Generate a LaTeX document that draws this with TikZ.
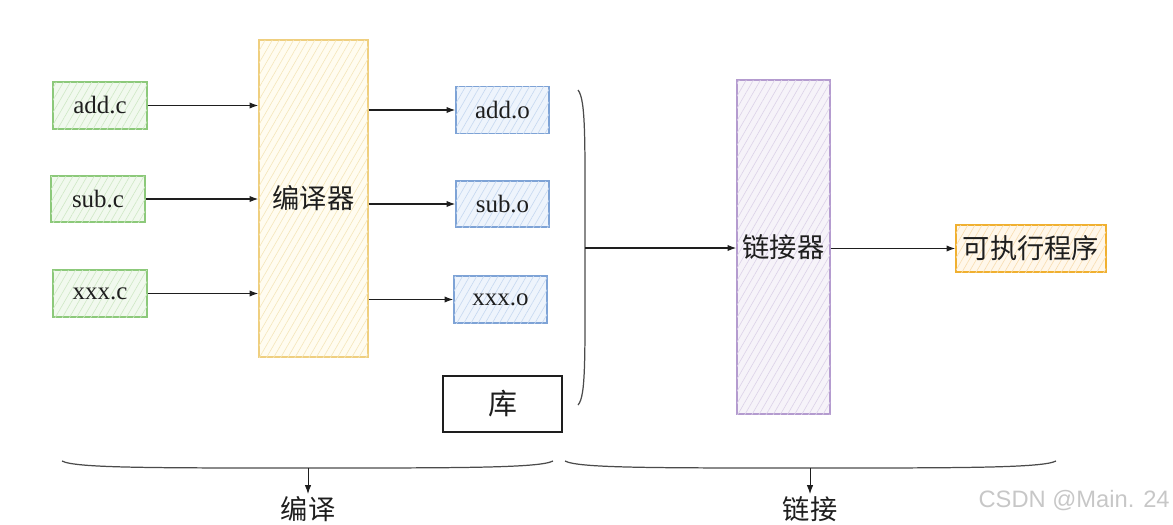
\documentclass[tikz,border=0pt]{standalone}
\usepackage{fontspec}
\newfontfamily\cjk{Noto Sans CJK SC}
\newfontfamily\wmfont{Liberation Sans}
\newfontfamily\latfont{Liberation Serif}
\usetikzlibrary{arrows.meta,patterns.meta}
\definecolor{grnD}{HTML}{8CC97A}\definecolor{grnF}{HTML}{F1F9EE}\definecolor{grnH}{HTML}{CFE8C6}
\definecolor{ylwD}{HTML}{EFCF7F}\definecolor{ylwF}{HTML}{FFFCF0}\definecolor{ylwH}{HTML}{F5E6BA}
\definecolor{bluD}{HTML}{7EA3D6}\definecolor{bluF}{HTML}{EEF4FC}\definecolor{bluH}{HTML}{C6D8F0}
\definecolor{purD}{HTML}{B49BCF}\definecolor{purF}{HTML}{F6F3F9}\definecolor{purH}{HTML}{DCD2E8}
\definecolor{orgD}{HTML}{F0B030}\definecolor{orgF}{HTML}{FFF7EA}\definecolor{orgH}{HTML}{F8DDB0}
\definecolor{ink}{HTML}{1E1E1E}
\begin{document}
\begin{tikzpicture}[x=0.02cm,y=-0.02cm,
  hbox/.style n args={3}{draw=#1, fill=#2, line width=0.8pt, inner sep=0pt, text=ink,
     postaction={pattern={Lines[angle=60,distance=3.5pt,line width=0.35pt]}, pattern color=#3}},
  lat/.style={font=\latfont\fontsize{14.2}{16}\selectfont},
  han/.style={font=\cjk\fontsize{15.5}{18}\selectfont},
  arr/.style={draw=ink, line width=0.65pt, -{Latex[length=5pt,width=3.6pt]}},
  brk/.style={draw=ink!80, line width=0.7pt}]
\clip (0,0) rectangle (1173,524);
\useasboundingbox (0,0) rectangle (1173,524);
% source files
\node[hbox={grnD}{grnF}{grnH}, lat, minimum width=94*0.02cm, minimum height=47*0.02cm] (addc) at (100,105.5) {add.c};
\node[hbox={grnD}{grnF}{grnH}, lat, minimum width=94*0.02cm, minimum height=46*0.02cm] (subc) at (98,199) {sub.c};
\node[hbox={grnD}{grnF}{grnH}, lat, minimum width=94*0.02cm, minimum height=47*0.02cm] (xxxc) at (100,293.5) {xxx.c};
% compiler
\node[hbox={ylwD}{ylwF}{ylwH}, han, minimum width=109*0.02cm, minimum height=317*0.02cm] (comp) at (313.5,198.5) {编译器};
% objects
\node[hbox={bluD}{bluF}{bluH}, lat, minimum width=93*0.02cm, minimum height=47*0.02cm] (addo) at (502.5,110) {add.o};
\node[hbox={bluD}{bluF}{bluH}, lat, minimum width=93*0.02cm, minimum height=46*0.02cm] (subo) at (502.5,204) {sub.o};
\node[hbox={bluD}{bluF}{bluH}, lat, minimum width=93*0.02cm, minimum height=47*0.02cm] (xxxo) at (500.5,299.5) {xxx.o};
% library
\node[draw=ink, line width=0.9pt, fill=white, font=\cjk\fontsize{16.5}{19}\selectfont, text=ink, minimum width=119*0.02cm, minimum height=56*0.02cm, inner sep=0pt] (lib) at (502.5,404) {库};
% linker
\node[hbox={purD}{purF}{purH}, han, minimum width=93*0.02cm, minimum height=334*0.02cm] (link) at (783.5,247) {链接器};
% executable
\node[hbox={orgD}{orgF}{orgH}, han, minimum width=150*0.02cm, minimum height=47*0.02cm] (exe) at (1031,248.5) {可执行程序};
% arrows into compiler
\draw[arr] (addc.east) -- (addc.east -| comp.west);
\draw[arr] (subc.east) -- (subc.east -| comp.west);
\draw[arr] (xxxc.east) -- (xxxc.east -| comp.west);
% arrows out of compiler
\draw[arr] (comp.east |- addo.west) -- (addo.west);
\draw[arr] (comp.east |- subo.west) -- (subo.west);
\draw[arr] (comp.east |- xxxo.west) -- (xxxo.west);
% big bracket
\coordinate (bm) at (585,248);
\draw[brk] (578,90) .. controls (586,100) and (585,140) .. (bm) .. controls (585,360) and (586,396) .. (578,405);
\draw[arr] (bm) -- (bm -| link.west);
\draw[arr] (link.east |- exe.west) -- (exe.west);
% bottom braces
\coordinate (bl) at (308,468);
\coordinate (br) at (810,468);
\draw[brk] (62,461) .. controls (75,468) and (150,468) .. (bl) .. controls (460,468) and (540,468) .. (553,461);
\draw[brk] (565,461) .. controls (578,468) and (650,468) .. (br) .. controls (960,468) and (1043,468) .. (1056,461);
\node[han, text=ink, inner sep=0pt] (tcomp) at (308,509.5) {编译};
\node[han, text=ink, inner sep=0pt] (tlink) at (810,509.5) {链接};
\draw[arr, line width=0.5pt] (bl) -- (308,494);
\draw[arr, line width=0.5pt] (br) -- (810,494);
% watermark
\node[font=\wmfont\fontsize{13.5}{16}\selectfont, text=black!22, anchor=east, inner sep=0pt] (wm) at (1170,501) {CSDN @Main. 24};
\end{tikzpicture}
\end{document}
